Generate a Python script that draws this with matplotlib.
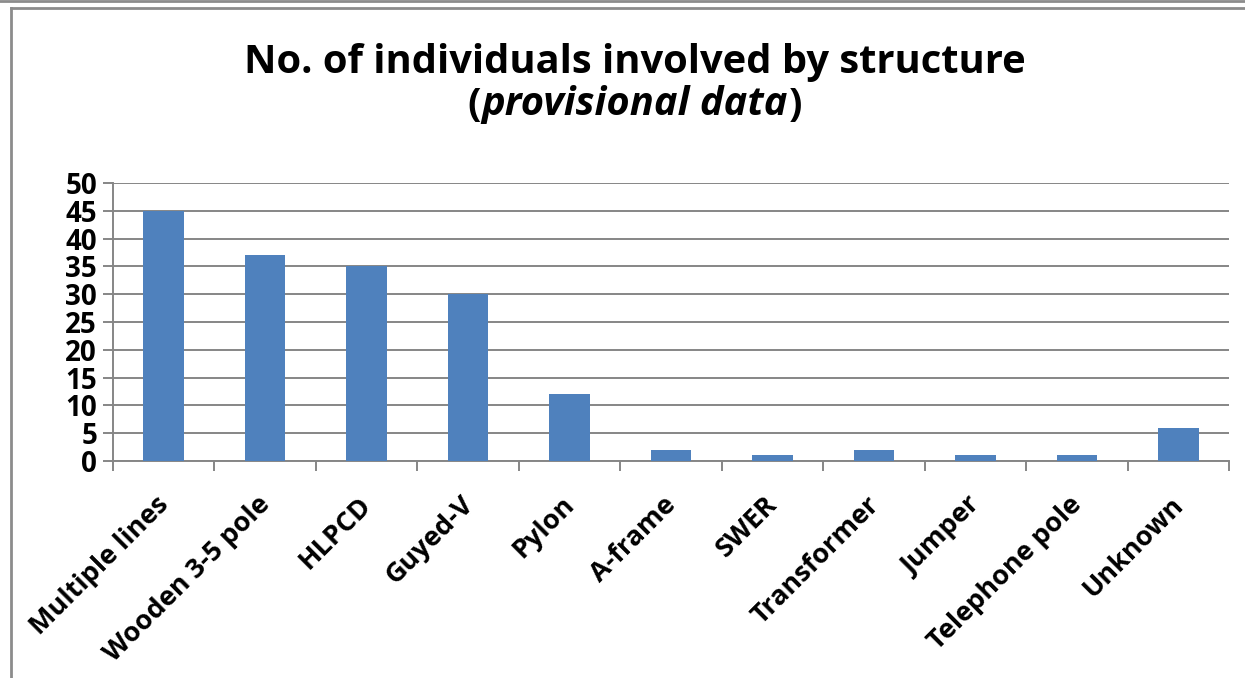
import numpy as np
import matplotlib
matplotlib.use("Agg")
import matplotlib.pyplot as plt
import matplotlib.transforms as mtrans
from matplotlib.lines import Line2D

# data
categories = ["Multiple lines", "Wooden 3-5 pole", "HLPCD", "Guyed-V", "Pylon",
              "A-frame", "SWER", "Transformer", "Jumper", "Telephone pole", "Unknown"]
counts = [45, 37, 35, 30, 12, 2, 1, 2, 1, 1, 6]
yticks = [0, 5, 10, 15, 20, 25, 30, 35, 40, 45, 50]

plt.rcParams['font.family'] = ['Open Sans', 'DejaVu Sans']
W, H = 1245, 678
fig = plt.figure(figsize=(W/100, H/100), dpi=100)
ax = fig.add_axes([113/W, 1-461/H, (1229-113)/W, (461-183)/H])

grey = '#868686'
x = np.arange(len(categories))
ax.bar(x, counts, width=0.4, color='#4F81BD', zorder=3)

ax.set_xlim(-0.5, len(categories)-0.5)
ax.set_ylim(0, 50)
ax.set_yticks(yticks)
ax.set_yticklabels([str(v) for v in yticks], fontsize=20, fontweight='bold')
ax.yaxis.grid(True, color=grey, linewidth=1.4, zorder=0)

# major ticks at boundaries, labels on minor ticks at centres
ax.set_xticks(np.arange(-0.5, len(categories), 1.0))
ax.set_xticklabels([])
ax.set_xticks(x, minor=True)
ax.set_xticklabels(categories, minor=True, rotation=45, ha='right', va='top',
                   rotation_mode='anchor', fontsize=19.5, fontweight='bold')
ax.tick_params(axis='x', which='minor', length=0, pad=22)
ax.tick_params(axis='x', which='major', direction='out', length=7.5, width=1.4, color=grey)
ax.tick_params(axis='y', direction='out', length=7.5, width=1.4, color=grey, pad=4)

shift = mtrans.ScaledTranslation(-8/100, 0, fig.dpi_scale_trans)
for lab in ax.xaxis.get_minorticklabels():
    lab.set_transform(lab.get_transform() + shift)

for s in ['top', 'right']:
    ax.spines[s].set_visible(False)
for s in ['left', 'bottom']:
    ax.spines[s].set_color(grey)
    ax.spines[s].set_linewidth(1.4)

# chart frame lines
fig.add_artist(Line2D([0, 1], [1-1/H, 1-1/H], color='#8c8c8c', linewidth=2, transform=fig.transFigure))
fig.add_artist(Line2D([10.5/W, 1], [1-8/H, 1-8/H], color='#8c8c8c', linewidth=2, transform=fig.transFigure))
fig.add_artist(Line2D([10.5/W, 10.5/W], [0, 1-8/H], color='#8c8c8c', linewidth=2, transform=fig.transFigure))

# title
tsize = 28.7
fig.text(635/W, 1-62/H, "No. of individuals involved by structure", ha='center', va='center',
         fontsize=tsize, fontweight='bold')
y2 = 1-105/H
t1 = fig.text(0, y2, "(", ha='left', va='center', fontsize=tsize, fontweight='bold')
t2 = fig.text(0, y2, "provisional data", ha='left', va='center', fontsize=tsize,
              fontweight='bold', fontstyle='italic')
t3 = fig.text(0, y2, ")", ha='left', va='center', fontsize=tsize, fontweight='bold')
r = fig.canvas.get_renderer()
w1 = t1.get_window_extent(r).width
w2 = t2.get_window_extent(r).width
w3 = t3.get_window_extent(r).width
start = 635 - (w1 + w2 + w3 + 2) / 2
t1.set_x(start / W)
t2.set_x((start + w1 + 1) / W)
t3.set_x((start + w1 + w2 + 2) / W)

fig.savefig("out.png", dpi=100)
